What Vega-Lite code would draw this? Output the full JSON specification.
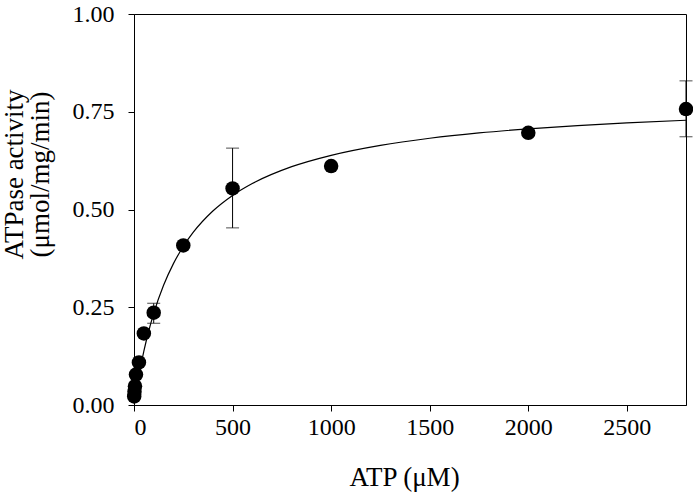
{
  "$schema": "https://vega.github.io/schema/vega-lite/v6.json",
  "autosize": {"type": "none"},
  "padding": {"left": 134, "top": 14, "right": 7, "bottom": 94},
  "width": 552,
  "height": 391,
  "background": "white",
  "config": {
    "view": {"stroke": "black", "strokeWidth": 1},
    "font": "Liberation Serif",
    "axis": {
      "grid": false,
      "domainColor": "black",
      "tickColor": "black",
      "labelColor": "black",
      "titleColor": "black",
      "labelFont": "Liberation Serif",
      "titleFont": "Liberation Serif",
      "labelFontSize": 24,
      "titleFontSize": 27,
      "titleFontWeight": "normal",
      "tickSize": 6
    }
  },
  "datasets": {
    "pts": [
      {"atp": 1, "act": 0.022},
      {"atp": 2.5, "act": 0.034},
      {"atp": 5, "act": 0.048},
      {"atp": 10, "act": 0.078},
      {"atp": 25, "act": 0.109},
      {"atp": 50, "act": 0.183},
      {"atp": 100, "act": 0.236, "lo": 0.209, "hi": 0.26},
      {"atp": 250, "act": 0.408},
      {"atp": 500, "act": 0.554, "lo": 0.453, "hi": 0.657},
      {"atp": 1000, "act": 0.611},
      {"atp": 2000, "act": 0.696},
      {"atp": 2800, "act": 0.757, "lo": 0.686, "hi": 0.829}
    ],
    "fit": [
      {"atp": 1, "v": 0.0033},
      {"atp": 5, "v": 0.0163},
      {"atp": 10, "v": 0.032},
      {"atp": 20, "v": 0.0615},
      {"atp": 30, "v": 0.0888},
      {"atp": 50, "v": 0.1376},
      {"atp": 75, "v": 0.1899},
      {"atp": 100, "v": 0.2344},
      {"atp": 150, "v": 0.3062},
      {"atp": 200, "v": 0.3616},
      {"atp": 250, "v": 0.4055},
      {"atp": 300, "v": 0.4413},
      {"atp": 400, "v": 0.4961},
      {"atp": 500, "v": 0.536},
      {"atp": 600, "v": 0.5663},
      {"atp": 800, "v": 0.6095},
      {"atp": 1000, "v": 0.6386},
      {"atp": 1250, "v": 0.6641},
      {"atp": 1500, "v": 0.6822},
      {"atp": 1750, "v": 0.6958},
      {"atp": 2000, "v": 0.7063},
      {"atp": 2250, "v": 0.7147},
      {"atp": 2500, "v": 0.7216},
      {"atp": 2800, "v": 0.7283}
    ]
  },
  "layer": [
    {
      "data": {"name": "fit"},
      "mark": {"type": "line", "color": "black", "strokeWidth": 1.2, "interpolate": "monotone"},
      "encoding": {
        "x": {
          "field": "atp", "type": "quantitative",
          "scale": {"domain": [0, 2800], "nice": false},
          "axis": {
            "values": [0, 500, 1000, 1500, 2000, 2500],
            "format": "d",
            "title": "ATP (μM)",
            "labelPadding": 4,
            "titleX": 270,
            "titleY": 80,
            "titleBaseline": "alphabetic"
          }
        },
        "y": {
          "field": "v", "type": "quantitative",
          "scale": {"domain": [0, 1], "nice": false},
          "axis": {
            "values": [0, 0.25, 0.5, 0.75, 1],
            "format": ".2f",
            "labelPadding": 14,
            "title": ["ATPase activity", "(μmol/mg/min)"],
            "titleX": -112,
            "titleY": 160,
            "titleAngle": -90,
            "titleAlign": "center",
            "titleBaseline": "alphabetic",
            "titleLineHeight": 26
          }
        }
      }
    },
    {
      "data": {"name": "pts"},
      "transform": [{"filter": "isValid(datum.lo)"}],
      "mark": {"type": "rule", "color": "black", "strokeWidth": 1},
      "encoding": {
        "x": {"field": "atp", "type": "quantitative"},
        "y": {"field": "lo", "type": "quantitative"},
        "y2": {"field": "hi"}
      }
    },
    {
      "data": {"name": "pts"},
      "transform": [{"filter": "isValid(datum.lo)"}, {"fold": ["lo", "hi"], "as": ["end", "val"]}],
      "mark": {"type": "tick", "color": "black", "orient": "horizontal", "size": 13, "thickness": 1},
      "encoding": {
        "x": {"field": "atp", "type": "quantitative"},
        "y": {"field": "val", "type": "quantitative"}
      }
    },
    {
      "data": {"name": "pts"},
      "mark": {"type": "circle", "color": "black", "opacity": 1, "size": 210, "clip": false},
      "encoding": {
        "x": {"field": "atp", "type": "quantitative"},
        "y": {"field": "act", "type": "quantitative"}
      }
    }
  ]
}
